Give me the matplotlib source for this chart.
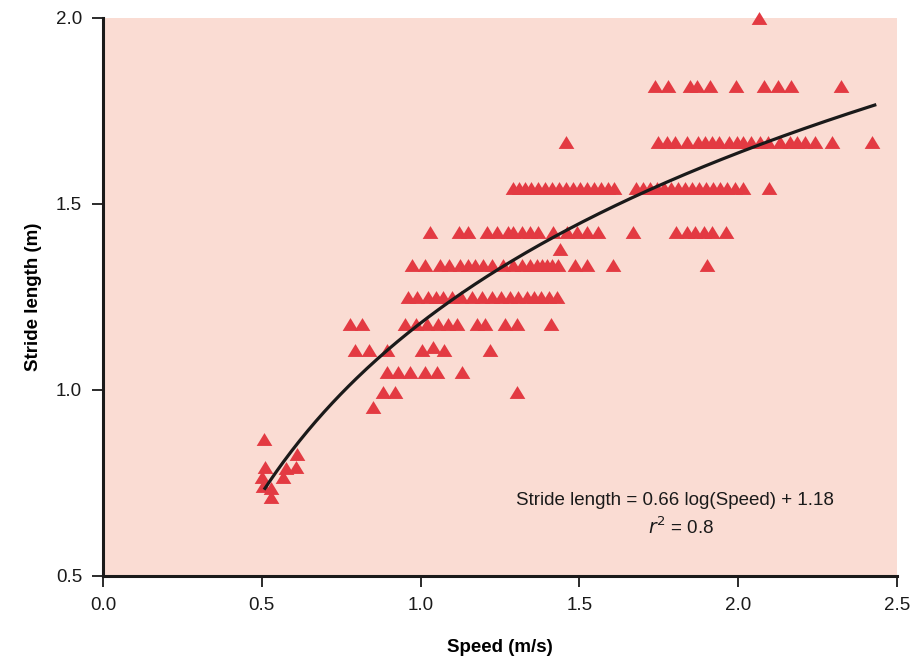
import matplotlib
matplotlib.use("Agg")
import matplotlib.pyplot as plt
import numpy as np
from matplotlib import font_manager

# ---- data ----
stride_levels = [2.00, 1.817, 1.668, 1.543, 1.424, 1.379, 1.337, 1.249, 1.178,
                 1.116, 1.107, 1.048, 0.995, 0.954]
speeds_by_level = [
    [2.066],
    [1.738, 1.779, 1.848, 1.870, 1.911, 1.994, 2.081, 2.125, 2.166, 2.324],
    [1.458, 1.748, 1.776, 1.801, 1.839, 1.873, 1.895, 1.917, 1.940, 1.971, 1.996,
     2.015, 2.040, 2.069, 2.094, 2.132, 2.163, 2.185, 2.210, 2.242, 2.295, 2.421],
    [1.291, 1.310, 1.329, 1.348, 1.370, 1.392, 1.414, 1.436, 1.458, 1.480, 1.502,
     1.524, 1.546, 1.568, 1.590, 1.609, 1.678, 1.700, 1.722, 1.744, 1.766, 1.788,
     1.810, 1.832, 1.854, 1.876, 1.899, 1.921, 1.943, 1.965, 1.990, 2.015, 2.097],
    [1.030, 1.121, 1.149, 1.209, 1.241, 1.275, 1.291, 1.319, 1.344, 1.370, 1.417,
     1.461, 1.492, 1.524, 1.559, 1.669, 1.804, 1.839, 1.864, 1.892, 1.917, 1.962],
    [1.439],
    [0.973, 1.014, 1.061, 1.089, 1.124, 1.149, 1.171, 1.196, 1.225, 1.259, 1.291,
     1.319, 1.344, 1.367, 1.382, 1.398, 1.414, 1.433, 1.486, 1.524, 1.606, 1.902],
    [0.960, 0.989, 1.023, 1.049, 1.071, 1.099, 1.127, 1.162, 1.193, 1.225, 1.253,
     1.282, 1.307, 1.335, 1.357, 1.379, 1.404, 1.430],
    [0.778, 0.816, 0.951, 0.986, 1.020, 1.055, 1.086, 1.115, 1.178, 1.203, 1.266,
     1.304, 1.411],
    [1.039],
    [0.793, 0.838, 0.894, 1.004, 1.074, 1.219],
    [0.894, 0.929, 0.967, 1.014, 1.052, 1.130],
    [0.882, 0.919, 1.304],
    [0.850],
]
low_speeds = [0.507, 0.510, 0.501, 0.504, 0.529, 0.529, 0.567, 0.576, 0.608, 0.611]
low_strides = [0.868, 0.793, 0.766, 0.742, 0.737, 0.712, 0.766, 0.790, 0.793, 0.828]

fit_a, fit_b = 0.66, 1.18
fit_range = (0.51, 2.43)

x_ticks = [0.0, 0.5, 1.0, 1.5, 2.0, 2.5]
y_ticks = [0.5, 1.0, 1.5, 2.0]

# ---- fonts ----
avail = {f.name for f in font_manager.fontManager.ttflist}
fam = "Liberation Sans Narrow" if "Liberation Sans Narrow" in avail else "Liberation Sans"
plt.rcParams["font.family"] = [fam, "DejaVu Sans"]

speed = []
stride = []
for lvl, sp in zip(stride_levels, speeds_by_level):
    speed += sp
    stride += [lvl] * len(sp)
speed += low_speeds
stride += low_strides

bg = "#fadcd3"
red = "#e33a42"

fig = plt.figure(figsize=(9.18, 6.57), dpi=100)
ax = fig.add_axes([103 / 918, 1 - 576 / 657, (897 - 103) / 918, (576 - 18) / 657])
ax.set_facecolor(bg)

tri = [(-1, -0.82), (1, -0.82), (0, 0.82)]
ax.plot(speed, stride, linestyle="none", marker=tri, markersize=11.3,
        color=red, markeredgewidth=0, clip_on=False, zorder=3)

xs = np.linspace(fit_range[0], fit_range[1], 300)
ax.plot(xs, fit_a * np.log(xs) + fit_b, color="#1a1a1a", linewidth=2.3, zorder=4)

ax.set_xlim(0, 2.5)
ax.set_ylim(0.5, 2.0)
ax.set_xticks(x_ticks)
ax.set_yticks(y_ticks)
ax.set_xticklabels([f"{t:.1f}" for t in x_ticks])
ax.set_yticklabels([f"{t:.1f}" for t in y_ticks])

for s in ["top", "right"]:
    ax.spines[s].set_visible(False)
for s in ["left", "bottom"]:
    ax.spines[s].set_linewidth(2.2)
    ax.spines[s].set_color("#1a1a1a")
ax.tick_params(direction="out", length=8, width=1.3, colors="#1a1a1a",
               labelsize=13.5, pad=7)

ax.set_xlabel("Speed (m/s)", fontsize=13.5, fontweight="bold", labelpad=18)
ax.set_ylabel("Stride length (m)", fontsize=13.5, fontweight="bold", labelpad=10)

ax.text(1.80, 0.703, "Stride length = 0.66 log(Speed) + 1.18", ha="center",
        va="center", fontsize=13.5, color="#1a1a1a")
ax.text(1.82, 0.630, r"$r^2$ = 0.8", ha="center", va="center", fontsize=13.5,
        color="#1a1a1a")

fig.savefig("out.png", dpi=100)
